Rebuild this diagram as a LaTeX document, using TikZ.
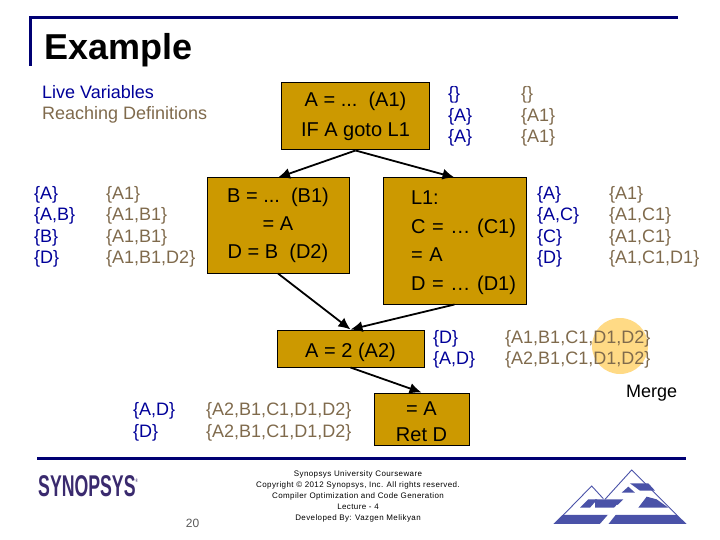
\documentclass[tikz,border=0pt]{standalone}
\usepackage{xcolor}
\usepackage{fontspec}
\setmainfont{Liberation Sans}
\newfontfamily\footfont[LetterSpace=5]{Liberation Sans}
\usepackage{tikz}
\usetikzlibrary{positioning, arrows.meta}
\definecolor{boxgold}{HTML}{CC9900}
\definecolor{setblue}{HTML}{000099}
\definecolor{setbrown}{HTML}{7F6A4C}
\definecolor{rulenavy}{HTML}{000073}
\definecolor{mergeglow}{HTML}{FFDA85}
\definecolor{logoblue}{HTML}{4A52A8}
\definecolor{logopurple}{HTML}{3A2A6E}
\newcommand{\ind}{\hspace*{28pt}}
\tikzset{
  codebox/.style={draw=black, fill=boxgold, line width=1pt, inner sep=0pt, align=center,
    font=\fontsize{20}{28.6}\selectfont},
  flowarrow/.style={line width=1.8pt, -{Latex[length=12pt,width=11pt]}},
  setlist/.style={anchor=west, inner sep=0pt, align=left, font=\fontsize{18}{21.4}\selectfont},
  livesets/.style={setlist, text=setblue},
  reachsets/.style={setlist, text=setbrown},
  slideline/.style={rulenavy, line width=3pt},
  footnote/.style={inner sep=0pt, align=center, font=\fontsize{8}{10.9}\selectfont\footfont}
}
\begin{document}
\begin{tikzpicture}[x=1pt, y=-1pt]
    \useasboundingbox (0,0) rectangle (720,540);
    % title and rules
    \draw[slideline] (30,66) -- (30,18) -- (678,18);
    \draw[slideline] (37,458) -- (686,458);
    \node[anchor=west, inner sep=0pt, font=\fontsize{36}{40}\selectfont\bfseries] (title) at (44,50) {Example};
    % legend
    \node[livesets] (live) at (42,92) {Live Variables};
    \node[reachsets] (reaching) at (42,115) {Reaching Definitions};
    % glow goes under the merged sets
    \node[circle, fill=mergeglow, minimum size=56pt, inner sep=0pt] (glow) at (620,346) {};
    % blocks
    \node[codebox, minimum width=148pt, minimum height=67pt, font=\fontsize{20}{30}\selectfont] (a1) at (355.5,116.5) {A = ...\ \ (A1)\\IF A goto L1};
    \node[codebox, minimum width=142pt, minimum height=95pt, font=\fontsize{20}{28}\selectfont] (b1) at (278,225.5) {B = ...\ \ (B1)\\= A\\D = B\ \ (D2)};
    \node[codebox, minimum width=143pt, minimum height=126pt, text width=143pt, text height=17pt, align=left] (l1) at (454.5,241)
      {\ind L1:\\\ind C = … (C1)\\\ind = A\\\ind D = … (D1)};
    \node[codebox, minimum width=147pt, minimum height=37pt, text height=20pt, text depth=3pt] (a2) at (350.5,348.5) {A = 2 (A2)};
    \node[codebox, minimum width=95pt, minimum height=52pt, text height=45pt, font=\fontsize{20}{26}\selectfont] (ret) at (421.5,419) {= A\\Ret D};
    \draw[flowarrow] (a1.south) -- (b1.north);
    \draw[flowarrow] (a1.south) -- (l1.north);
    \draw[flowarrow] (b1.south) -- (a2.north);
    \draw[flowarrow] (l1.south) -- (a2.north);
    \draw[flowarrow] (a2.south) -- (ret.north);
    % sets next to the blocks
    \node[livesets] (livea1) at (448,116.5) {\{\}\\\{A\}\\\{A\}};
    \node[reachsets] (reacha1) at (521,116.5) {\{\}\\\{A1\}\\\{A1\}};
    \node[livesets] (liveb1) at (34,227) {\{A\}\\\{A,B\}\\\{B\}\\\{D\}};
    \node[reachsets] (reachb1) at (106,227) {\{A1\}\\\{A1,B1\}\\\{A1,B1\}\\\{A1,B1,D2\}};
    \node[livesets] (livel1) at (537,227) {\{A\}\\\{A,C\}\\\{C\}\\\{D\}};
    \node[reachsets] (reachl1) at (609,227) {\{A1\}\\\{A1,C1\}\\\{A1,C1\}\\\{A1,C1,D1\}};
    \node[livesets] (livea2) at (433,349.5) {\{D\}\\\{A,D\}};
    \node[reachsets] (reacha2) at (505,349.5) {\{A1,B1,C1,D1,D2\}\\\{A2,B1,C1,D1,D2\}};
    \node[livesets] (liveret) at (133,422) {\{A,D\}\\\{D\}};
    \node[reachsets] (reachret) at (206,422) {\{A2,B1,C1,D1,D2\}\\\{A2,B1,C1,D1,D2\}};
    \node[setlist] (merge) at (626,393) {Merge};
    % footer
    \node[footnote] (course) at (358,496.5) {Synopsys University Courseware\\Copyright © 2012 Synopsys, Inc. All rights reserved.\\Compiler Optimization and Code Generation\\Lecture - 4\\Developed By: Vazgen Melikyan};
    \node[inner sep=0pt, text=black!65, font=\fontsize{12}{14}\selectfont] (pageno) at (192.5,523) {20};
    \node[anchor=west, inner sep=0pt, text=logopurple, font=\fontsize{30}{32}\selectfont\bfseries] (synopsys) at (38,486)
      {\scalebox{0.59}[1]{SYNOPSYS\raisebox{14pt}{\fontsize{5}{5}\selectfont ®}}};
    % mountain logo
    \begin{scope}[shift={(540,460)}, x=0.3333pt, y=-0.3333pt]
      \draw[logoblue, line width=0.9pt] (70,165) -- (155,78) -- (190,116);
      \draw[logoblue, line width=0.9pt] (195,118) -- (275,30) -- (410,165);
      \fill[logoblue] (40,192) -- (67,165) -- (412,165) -- (440,192) -- cycle;
      \fill[logoblue] (120,143) -- (145,118) -- (172,118) -- (150,143) -- cycle;
      \fill[logoblue] (165,143) -- (165,118) -- (250,118) -- (225,143) -- cycle;
      \fill[logoblue] (295,143) -- (320,110) -- (350,118) -- (385,143) -- cycle;
      \fill[logoblue] (270,70) -- (325,70) -- (345,92) -- (300,92) -- cycle;
      \fill[logoblue] (245,98) -- (265,80) -- (285,98) -- cycle;
      \fill[white] (180,192) -- (230,135) -- (250,135) -- (205,192) -- cycle;
    \end{scope}
  \end{tikzpicture}
\end{document}
